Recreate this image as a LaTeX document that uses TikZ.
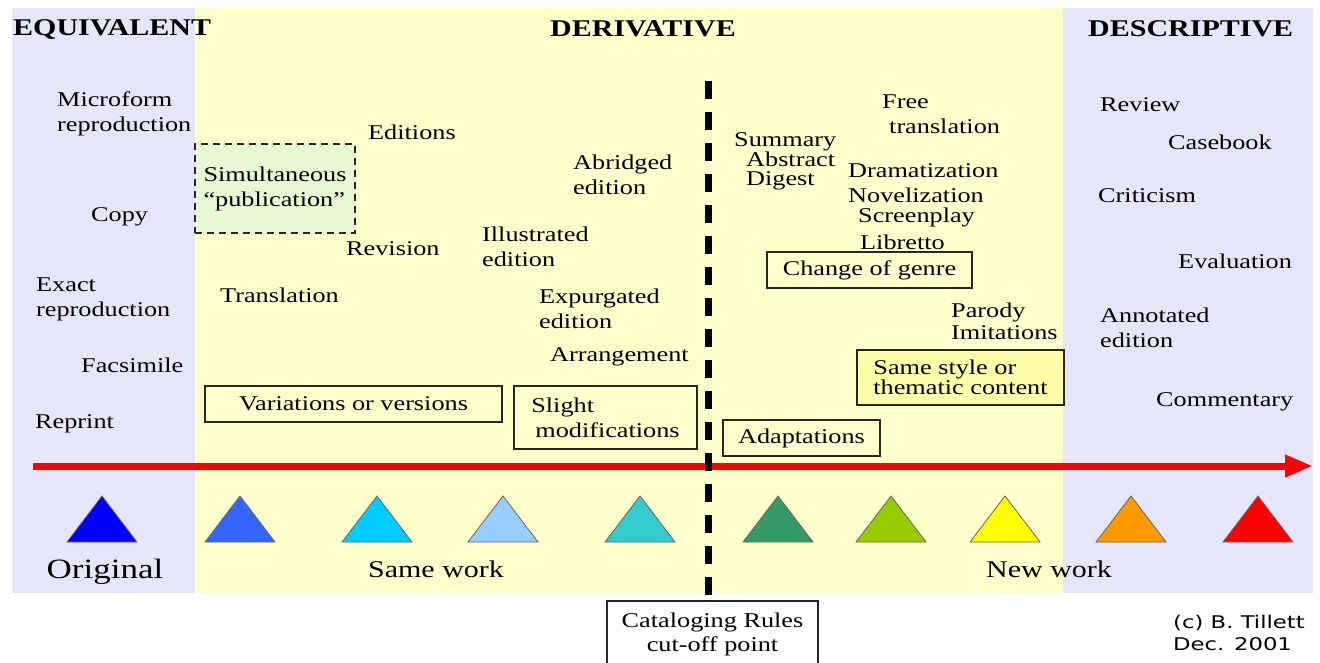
\documentclass[tikz,border=0pt]{standalone}
\usepackage{fontspec}
\setmainfont{Liberation Serif}[FakeStretch=1.25]
\newfontfamily\notesans{DejaVu Sans}[FakeStretch=1.3]
\usetikzlibrary{arrows.meta}
\definecolor{lavend}{HTML}{E6E6FA}
\definecolor{paleyellow}{HTML}{FFFFCC}
\definecolor{palegreen}{HTML}{E6F9D2}
\definecolor{boxyellow}{HTML}{FFFFAA}
\definecolor{tri0}{HTML}{0000FF}
\definecolor{tri1}{HTML}{3366FF}
\definecolor{tri2}{HTML}{00CCFF}
\definecolor{tri3}{HTML}{99CCFF}
\definecolor{tri4}{HTML}{33CCCC}
\definecolor{tri5}{HTML}{339966}
\definecolor{tri6}{HTML}{99CC00}
\definecolor{tri7}{HTML}{FFFF00}
\definecolor{tri8}{HTML}{FF9900}
\definecolor{tri9}{HTML}{FF0000}
\begin{document}
\begin{tikzpicture}[x=1pt,y=-1pt]
    \useasboundingbox (0,0) rectangle (1320,662);
    \fill[white] (0,0) rectangle (1320,662);
    \fill[lavend] (12,8) rectangle (195,593);
    \fill[paleyellow] (195,8) rectangle (1063,593);
    \fill[lavend] (1063,8) rectangle (1313,593);
    \begin{scope}
        \tikzstyle{every node}=[inner sep=0, anchor=west, text=black, font=\fontsize{24}{28}\selectfont\bfseries]
        \node (equiv) at (13,29) {EQUIVALENT};
        \node (deriv) at (550,29) {DERIVATIVE};
        \node (descr) at (1088,29) {DESCRIPTIVE};
    \end{scope}
    \begin{scope}
        \tikzstyle{every node}=[inner sep=0, anchor=west, align=left, text=black, font=\fontsize{21}{25}\selectfont]
        \node (micro) at (57,114) {Microform\\reproduction};
        \node (copy) at (91,217) {Copy};
        \node (exact) at (36,299) {Exact\\reproduction};
        \node (facs) at (81,365) {Facsimile};
        \node (reprint) at (35,424) {Reprint};
        \node (editions) at (368,132) {Editions};
        \node (revision) at (346,249) {Revision};
        \node (transl) at (220,295) {Translation};
        \node (illus) at (482,247) {Illustrated\\edition};
        \node (abridged) at (573,175) {Abridged\\edition};
        \node (expurg) at (539,309) {Expurgated\\edition};
        \node (arrange) at (550,357) {Arrangement};
        \node[font=\fontsize{21}{19}\selectfont] (summary) at (734,161) {Summary\\\hspace*{12pt}Abstract\\\hspace*{12pt}Digest};
        \node (free) at (882,114) {Free\\\hspace*{7pt}translation};
        \node (drama) at (848,171) {Dramatization};
        \node (novel) at (848,195) {Novelization};
        \node (screen) at (858,217) {Screenplay};
        \node (libretto) at (860,242) {Libretto};
        \node[font=\fontsize{21}{22}\selectfont] (parody) at (951,321) {Parody\\Imitations};
        \node (review) at (1100,105) {Review};
        \node (casebook) at (1168,142) {Casebook};
        \node (critic) at (1098,196) {Criticism};
        \node (evaluat) at (1178,261) {Evaluation};
        \node (annot) at (1100,328) {Annotated\\edition};
        \node (comment) at (1156,402) {Commentary};
    \end{scope}
    \draw[red, line width=7pt, -{Triangle[length=28pt,width=21pt]}] (33,466) coordinate (start) -- (1313,466) coordinate (end);
    \begin{scope}
        \tikzstyle{every node}=[inner sep=0, anchor=center, align=left, draw=black!85, line width=1.6pt, text=black, font=\fontsize{21}{25}\selectfont]
        \node[minimum width=297, minimum height=36] (vari) at (353.5,404) {Variations or versions};
        \node[minimum width=183, minimum height=63] (slight) at (605.5,417.5) {Slight\\\hspace*{4pt}modifications};
        \node[minimum width=160, minimum height=89, fill=palegreen, dash pattern=on 7pt off 5pt] (simul) at (275,188.5) {Simultaneous\\“publication”};
        \node[minimum width=205, minimum height=36] (genre) at (869.5,270) {Change of genre};
        \node[minimum width=207, minimum height=55, fill=boxyellow, font=\fontsize{21}{18}\selectfont] (style) at (960.5,377.5) {Same style or\\thematic content};
        \node[minimum width=157, minimum height=36] (adapt) at (801.5,438) {Adaptations};
        \node[minimum width=211, minimum height=66, fill=white, align=center, font=\fontsize{21}{24}\selectfont] (catal) at (712.5,634) {Cataloging Rules\\cut-off point};
    \end{scope}
    \coordinate (cut) at (708,81);
    \draw[line width=7pt, dash pattern=on 18pt off 13pt] (cut) -- (cut |- catal.north);
    \begin{scope}
        \tikzstyle{every path}=[draw=black!60, line width=0.8pt]
        \filldraw[fill=tri0] (67,542) -- (102,496) -- (137,542) -- cycle;
        \filldraw[fill=tri1] (205,542) -- (240,496) -- (275,542) -- cycle;
        \filldraw[fill=tri2] (342,542) -- (377,496) -- (412,542) -- cycle;
        \filldraw[fill=tri3] (468,542) -- (503,496) -- (538,542) -- cycle;
        \filldraw[fill=tri4] (605,542) -- (640,496) -- (675,542) -- cycle;
        \filldraw[fill=tri5] (743,542) -- (778,496) -- (813,542) -- cycle;
        \filldraw[fill=tri6] (856,542) -- (891,496) -- (926,542) -- cycle;
        \filldraw[fill=tri7] (970,542) -- (1005,496) -- (1040,542) -- cycle;
        \filldraw[fill=tri8] (1096,542) -- (1131,496) -- (1166,542) -- cycle;
        \filldraw[fill=tri9] (1223,542) -- (1258,496) -- (1293,542) -- cycle;
    \end{scope}
    \begin{scope}
        \tikzstyle{every node}=[inner sep=0, anchor=center, text=black, font=\fontsize{24}{28}\selectfont]
        \node[font=\fontsize{28}{32}\selectfont] (orig) at (105,572) {Original};
        \node (same) at (436,569) {Same work};
        \node (new) at (1049,569) {New work};
        \node[anchor=west, align=left, font=\notesans\fontsize{17.5}{22}\selectfont] (credit) at (1173,633) {(c) B. Tillett\\Dec. 2001};
    \end{scope}
\end{tikzpicture}
\end{document}
